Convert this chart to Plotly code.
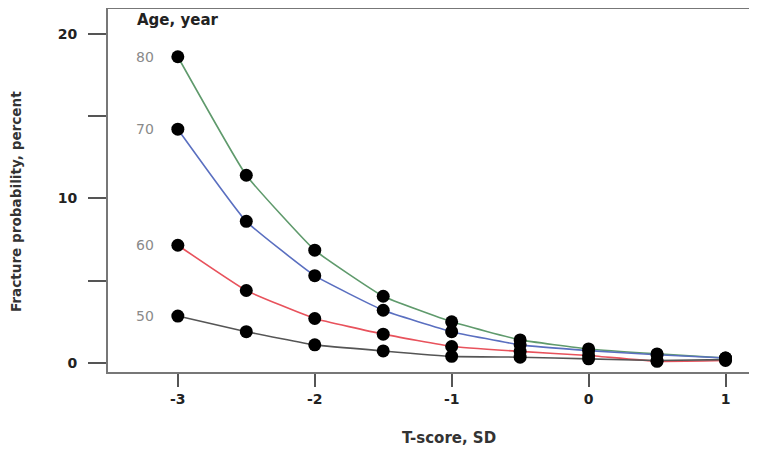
import plotly.graph_objects as go

t_scores = [-3, -2.5, -2, -1.5, -1, -0.5, 0, 0.5, 1]
ages = ["80", "70", "60", "50"]
prob_80 = [18.6, 11.4, 6.85, 4.05, 2.5, 1.4, 0.85, 0.55, 0.3]
prob_70 = [14.2, 8.6, 5.3, 3.2, 1.9, 1.1, 0.75, 0.5, 0.3]
prob_60 = [7.15, 4.4, 2.7, 1.75, 1.0, 0.7, 0.45, 0.1, 0.15]
prob_50 = [2.85, 1.9, 1.1, 0.73, 0.4, 0.35, 0.25, 0.15, 0.2]
series = [prob_80, prob_70, prob_60, prob_50]
colors = ["#5f9a6c", "#5a6fc0", "#e8525c", "#555555"]

y_tickvals = [0, 5, 10, 15, 20]
y_ticktext = ["0", "", "10", "", "20"]
x_tickvals = [-3, -2, -1, 0, 1]
x_ticktext = ["-3", "-2", "-1", "0", "1"]

fig = go.Figure()
for vals, col in zip(series, colors):
    fig.add_trace(go.Scatter(
        x=t_scores, y=vals, mode="lines+markers",
        line=dict(color=col, width=1.6, shape="spline", smoothing=0.35),
        marker=dict(color="black", size=13),
        showlegend=False,
        cliponaxis=False,
    ))

for age, vals in zip(ages, series):
    fig.add_annotation(x=t_scores[0], y=vals[0], text=age, showarrow=False,
                       xshift=-33, font=dict(family="DejaVu Sans", size=14, color="#8a8a8a"))

fig.add_annotation(xref="paper", yref="paper", x=0.0416, y=1.0, xanchor="left", yanchor="middle",
                   yshift=-11, text="<b>Age, year</b>", showarrow=False,
                   font=dict(family="DejaVu Sans", size=15, color="#222222"))

fig.add_annotation(xref="paper", yref="paper", x=0.525, y=0, xanchor="center", yanchor="middle",
                   yshift=-66, text="<b>T-score, SD</b>", showarrow=False,
                   font=dict(family="DejaVu Sans", size=15, color="#333333"))

fig.add_annotation(xref="paper", yref="paper", x=0, y=0.468, xanchor="center", yanchor="middle",
                   xshift=-92, textangle=-90, text="<b>Fracture probability, percent</b>", showarrow=False,
                   font=dict(family="DejaVu Sans", size=13.6, color="#333333"))

# page body has an 8px default margin; figure is sized/offset to compensate
fig.update_layout(
    width=749, height=441,
    margin=dict(l=100, r=0, t=1, b=77),
    plot_bgcolor="white", paper_bgcolor="white",
    font=dict(family="DejaVu Sans", size=13, color="#222222"),
)
fig.update_xaxes(
    range=[-3.51, 1.23], tickvals=x_tickvals, ticktext=x_ticktext,
    showgrid=False, zeroline=False, showline=True, linecolor="#777777", linewidth=2,
    mirror=True, ticks="outside", ticklen=13, tickwidth=2, tickcolor="#555555",
    tickfont=dict(family="DejaVu Sans", size=14, color="#222222", weight="bold"),
)
fig.update_yaxes(
    range=[-0.55, 21.5], tickvals=y_tickvals, ticktext=y_ticktext,
    showgrid=False, zeroline=False, showline=True, linecolor="#777777", linewidth=2,
    ticks="outside", ticklen=18, tickwidth=2, tickcolor="#555555", ticklabelstandoff=8,
    tickfont=dict(family="DejaVu Sans", size=14, color="#222222", weight="bold"),
)

fig.write_html("out.html")
